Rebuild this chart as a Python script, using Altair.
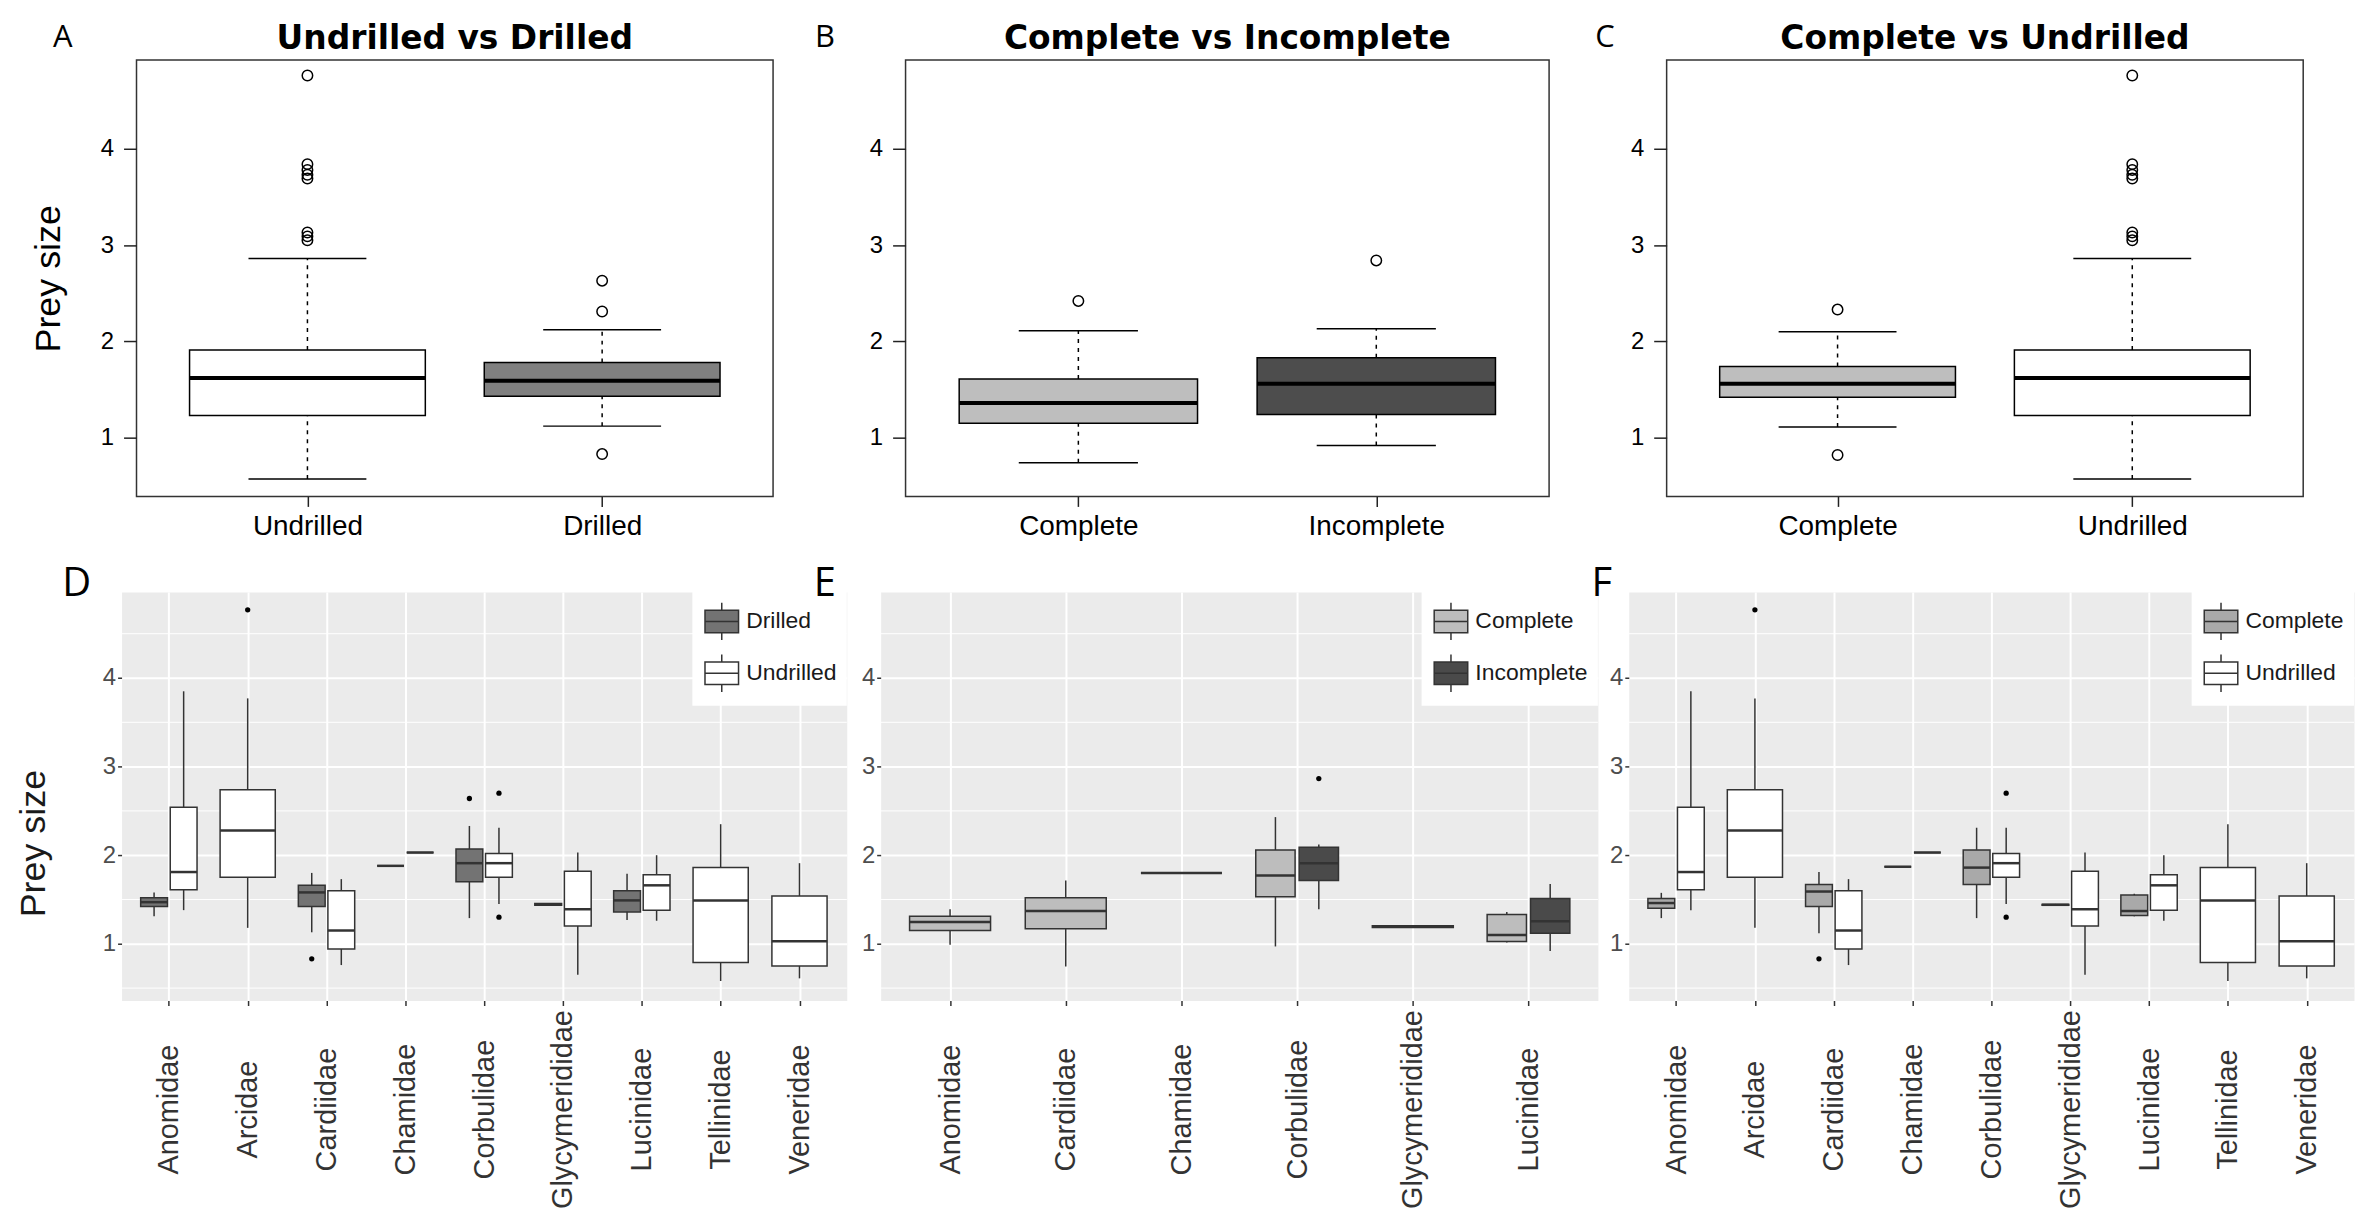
import altair as alt
import numpy as np
import pandas as pd

FONT = "Liberation Sans"
TITLE_FONT = "DejaVu Sans"
LETTER_FONT = "Open Sans"

# ---------------- top row data (base-R style boxplots) ----------------
A_groups = ["Undrilled", "Drilled"]
A_fill = ["#ffffff", "#808080"]
A_lower = [0.57, 1.12]
A_q1 = [1.23, 1.43]
A_median = [1.62, 1.59]
A_q3 = [1.91, 1.78]
A_upper = [2.86, 2.12]
A_out_group = ["Undrilled"] * 8 + ["Drilled"] * 3
A_out_value = [4.76, 3.84, 3.78, 3.73, 3.69, 3.13, 3.09, 3.05, 2.63, 2.31, 0.83]

B_groups = ["Complete", "Incomplete"]
B_fill = ["#bebebe", "#4d4d4d"]
B_lower = [0.74, 0.92]
B_q1 = [1.15, 1.24]
B_median = [1.36, 1.56]
B_q3 = [1.61, 1.83]
B_upper = [2.11, 2.13]
B_out_group = ["Complete", "Incomplete"]
B_out_value = [2.42, 2.84]

C_groups = ["Complete", "Undrilled"]
C_fill = ["#bebebe", "#ffffff"]
C_lower = [1.11, 0.57]
C_q1 = [1.42, 1.23]
C_median = [1.56, 1.62]
C_q3 = [1.74, 1.91]
C_upper = [2.10, 2.86]
C_out_group = ["Complete", "Complete"] + ["Undrilled"] * 8
C_out_value = [2.33, 0.82, 4.76, 3.84, 3.78, 3.73, 3.69, 3.13, 3.09, 3.05]

# ---------------- bottom row data (ggplot style boxplots) ----------------
fams9 = ["Anomidae", "Arcidae", "Cardiidae", "Chamidae", "Corbulidae",
         "Glycymerididae", "Lucinidae", "Tellinidae", "Veneridae"]
fams6 = ["Anomidae", "Cardiidae", "Chamidae", "Corbulidae", "Glycymerididae", "Lucinidae"]

D_groups = ["Drilled", "Undrilled"]
D_fill = ["#737373", "#ffffff"]
D_box_family = ["Anomidae", "Anomidae", "Arcidae", "Cardiidae", "Cardiidae", "Chamidae", "Chamidae",
                "Corbulidae", "Corbulidae", "Glycymerididae", "Glycymerididae", "Lucinidae", "Lucinidae",
                "Tellinidae", "Veneridae"]
D_box_group = ["Drilled", "Undrilled", "Undrilled", "Drilled", "Undrilled", "Drilled", "Undrilled",
               "Drilled", "Undrilled", "Drilled", "Undrilled", "Drilled", "Undrilled", "Undrilled", "Undrilled"]
D_lower = [1.31, 1.38, 1.18, 1.13, 0.76, 1.88, 2.03, 1.29, 1.45, 1.43, 0.65, 1.27, 1.26, 0.58, 0.61]
D_q1 = [1.42, 1.61, 1.75, 1.42, 0.94, 1.88, 2.03, 1.70, 1.75, 1.435, 1.20, 1.36, 1.38, 0.79, 0.75]
D_median = [1.47, 1.81, 2.28, 1.58, 1.15, 1.88, 2.03, 1.91, 1.91, 1.445, 1.39, 1.49, 1.66, 1.49, 1.03]
D_q3 = [1.52, 2.54, 2.74, 1.66, 1.60, 1.88, 2.03, 2.07, 2.02, 1.455, 1.82, 1.60, 1.78, 1.86, 1.54]
D_upper = [1.58, 3.85, 3.77, 1.80, 1.73, 1.88, 2.03, 2.33, 2.31, 1.46, 2.03, 1.79, 2.00, 2.35, 1.91]
D_out_family = ["Arcidae", "Cardiidae", "Corbulidae", "Corbulidae", "Corbulidae"]
D_out_group = ["Undrilled", "Drilled", "Drilled", "Undrilled", "Undrilled"]
D_out_value = [4.77, 0.83, 2.64, 2.70, 1.30]

E_groups = ["Complete", "Incomplete"]
E_fill = ["#bdbdbd", "#4a4a4a"]
E_box_family = ["Anomidae", "Cardiidae", "Chamidae", "Corbulidae", "Corbulidae",
                "Glycymerididae", "Lucinidae", "Lucinidae"]
E_box_group = ["Complete", "Complete", "Complete", "Complete", "Incomplete",
               "Complete", "Complete", "Incomplete"]
E_lower = [0.99, 0.745, 1.80, 0.97, 1.39, 1.18, 1.015, 0.92]
E_q1 = [1.15, 1.17, 1.80, 1.53, 1.715, 1.185, 1.026, 1.12]
E_median = [1.245, 1.37, 1.80, 1.77, 1.91, 1.195, 1.10, 1.255]
E_q3 = [1.31, 1.52, 1.80, 2.06, 2.09, 1.205, 1.33, 1.51]
E_upper = [1.39, 1.715, 1.80, 2.43, 2.12, 1.21, 1.36, 1.675]
E_out_family = ["Corbulidae"]
E_out_group = ["Incomplete"]
E_out_value = [2.865]

F_groups = ["Complete", "Undrilled"]
F_fill = ["#a9a9a9", "#ffffff"]
F_box_family = ["Anomidae", "Anomidae", "Arcidae", "Cardiidae", "Cardiidae", "Chamidae", "Chamidae",
                "Corbulidae", "Corbulidae", "Glycymerididae", "Glycymerididae", "Lucinidae", "Lucinidae",
                "Tellinidae", "Veneridae"]
F_box_group = ["Complete", "Undrilled", "Undrilled", "Complete", "Undrilled", "Complete", "Undrilled",
               "Complete", "Undrilled", "Complete", "Undrilled", "Complete", "Undrilled", "Undrilled", "Undrilled"]
F_lower = [1.29, 1.38, 1.18, 1.12, 0.76, 1.87, 2.03, 1.29, 1.45, 1.43, 0.65, 1.31, 1.26, 0.58, 0.61]
F_q1 = [1.40, 1.61, 1.75, 1.42, 0.94, 1.87, 2.03, 1.67, 1.75, 1.435, 1.20, 1.32, 1.38, 0.79, 0.75]
F_median = [1.46, 1.81, 2.28, 1.59, 1.15, 1.87, 2.03, 1.86, 1.91, 1.44, 1.39, 1.37, 1.66, 1.49, 1.03]
F_q3 = [1.51, 2.54, 2.74, 1.67, 1.60, 1.87, 2.03, 2.06, 2.02, 1.445, 1.82, 1.55, 1.78, 1.86, 1.54]
F_upper = [1.575, 3.85, 3.77, 1.81, 1.73, 1.87, 2.03, 2.31, 2.31, 1.45, 2.03, 1.565, 2.00, 2.35, 1.91]
F_out_family = ["Arcidae", "Cardiidae", "Corbulidae", "Corbulidae"]
F_out_group = ["Undrilled", "Complete", "Undrilled", "Undrilled"]
F_out_value = [4.77, 0.83, 2.70, 1.30]

TOP_Y = [0.39, 4.92]
BOT_Y = [0.36, 4.97]
TOP_H = 438
BOT_H = 410


def label_expr(names):
    return "[" + ",".join("'%s'" % n for n in names) + "][datum.value - 1]"


def text_layer(txt, dx, dy, size, font, weight="normal"):
    return alt.Chart(pd.DataFrame({"label": [txt]})).mark_text(
        font=font, fontSize=size, fontWeight=weight, align="center", baseline="middle",
        color="black"
    ).encode(x=alt.value(dx), y=alt.value(dy), text="label:N")


def top_panel(groups, fills, lower, q1, med, q3, upper, out_g, out_v,
              title, letter, letter_dx, width, ytitle):
    box = pd.DataFrame({"group": groups, "lower": lower, "q1": q1, "median": med,
                        "q3": q3, "upper": upper})
    box["pos"] = np.arange(1, len(groups) + 1)
    box["bl"] = box["pos"] - 0.4
    box["br"] = box["pos"] + 0.4
    box["cl"] = box["pos"] - 0.2
    box["cr"] = box["pos"] + 0.2
    outs = pd.DataFrame({"group": out_g, "value": out_v})
    outs["pos"] = outs["group"].map({g: i + 1 for i, g in enumerate(groups)})

    xs = alt.Scale(domain=[0.42, len(groups) + 0.58], nice=False, zero=False)
    ys = alt.Scale(domain=TOP_Y, nice=False, zero=False)
    xaxis = alt.Axis(values=list(range(1, len(groups) + 1)), labelExpr=label_expr(groups),
                     title=None, grid=False, domain=False, tickSize=10, tickColor="#222",
                     tickWidth=1.5, labelFontSize=28, labelPadding=6, labelColor="black",
                     labelFont=FONT, labelFlush=False)
    ykw = dict(values=[1, 2, 3, 4], format="d", grid=False, domain=False, tickSize=13,
               tickColor="#222", tickWidth=1.5, labelFontSize=24, labelPadding=10,
               labelColor="black", labelFont=FONT)
    if ytitle:
        yaxis = alt.Axis(title=ytitle, titleX=-88, titleY=TOP_H / 2, titleAngle=270,
                         titleAlign="center", titleBaseline="middle", titleFontSize=36,
                         titleFontWeight="normal", titleColor="black", titleFont=FONT, **ykw)
    else:
        yaxis = alt.Axis(title=None, **ykw)

    def X(f):
        return alt.X(f, type="quantitative", scale=xs, axis=xaxis)

    def Y(f):
        return alt.Y(f, type="quantitative", scale=ys, axis=yaxis)

    base = alt.Chart(box)
    up = base.mark_rule(color="black", strokeWidth=1.5, strokeDash=[4, 5]).encode(
        x=X("pos"), y=Y("q3"), y2="upper")
    lo = base.mark_rule(color="black", strokeWidth=1.5, strokeDash=[4, 5]).encode(
        x=X("pos"), y=Y("lower"), y2="q1")
    capu = base.mark_rule(color="black", strokeWidth=1.5).encode(x=X("cl"), x2="cr", y=Y("upper"))
    capl = base.mark_rule(color="black", strokeWidth=1.5).encode(x=X("cl"), x2="cr", y=Y("lower"))
    rect = base.mark_rect(stroke="black", strokeWidth=1.5).encode(
        x=X("bl"), x2="br", y=Y("q1"), y2="q3",
        fill=alt.Fill("group:N", scale=alt.Scale(domain=groups, range=fills), legend=None))
    medr = base.mark_rule(color="black", strokeWidth=4).encode(x=X("bl"), x2="br", y=Y("median"))
    pts = alt.Chart(outs).mark_point(shape="circle", filled=False, size=110, strokeWidth=1.5,
                                     color="black", opacity=1).encode(x=X("pos"), y=Y("value"))
    let = text_layer(letter, letter_dx, -22, 31, LETTER_FONT)
    ttl = text_layer(title, width / 2, -21, 33, TITLE_FONT, "bold")
    return alt.layer(up, lo, capu, capl, rect, medr, pts, let, ttl).properties(
        width=width, height=TOP_H,
        view=alt.ViewBackground(stroke="#333333", strokeWidth=1.5, fill="white"))


BOX_PATH = "M-0.9,-0.6H0.9V0.6H-0.9Z M-0.9,0H0.9 M0,-0.6V-1 M0,0.6V1"


def bottom_panel(fams, groups, fills, bf, bg, lower, q1, med, q3, upper, of, og, ov,
                 letter, letter_dx, width, ytitle, legend_offset):
    box = pd.DataFrame({"family": bf, "group": bg, "lower": lower, "q1": q1,
                        "median": med, "q3": q3, "upper": upper})
    box["pos"] = box["family"].map({f: i + 1 for i, f in enumerate(fams)})
    cnt = box.groupby("family")["group"].transform("count").to_numpy()
    order = box.groupby("family").cumcount().to_numpy()
    off = np.where(cnt == 2, np.where(order == 0, -0.1875, 0.1875), 0.0)
    hw = np.where(cnt == 2, 0.17, 0.35)
    box["xc"] = box["pos"] + off
    box["xl"] = box["xc"] - hw
    box["xr"] = box["xc"] + hw
    outs = pd.DataFrame({"family": of, "group": og, "value": ov})
    outs = outs.merge(box[["family", "group", "xc"]], on=["family", "group"], how="left")
    minor = pd.DataFrame({"v": [0.5, 1.5, 2.5, 3.5, 4.5]})

    n = len(fams)
    xs = alt.Scale(domain=[0.4, n + 0.6], nice=False, zero=False)
    ys = alt.Scale(domain=BOT_Y, nice=False, zero=False)
    xaxis = alt.Axis(values=list(range(1, n + 1)), labelExpr=label_expr(fams), title=None,
                     grid=True, gridColor="white", gridWidth=2, domain=False, tickSize=5,
                     tickColor="#333333", tickWidth=1.5, labelAngle=270, labelAlign="center",
                     labelBaseline="middle", labelPadding=104, labelFontSize=29,
                     labelColor="#333333", labelFont=FONT, labelFlush=False, labelOverlap=False,
                     labelLimit=400)
    ykw = dict(values=[1, 2, 3, 4], format="d", grid=True, gridColor="white", gridWidth=2,
               domain=False, tickSize=4, tickColor="#333333", tickWidth=1.5, labelFontSize=24,
               labelPadding=2, labelColor="#4d4d4d", labelFont=FONT)
    if ytitle:
        yaxis = alt.Axis(title=ytitle, titleX=-88, titleY=252, titleAngle=270,
                         titleAlign="center", titleBaseline="middle", titleFontSize=36,
                         titleFontWeight="normal", titleColor="#1a1a1a", titleFont=FONT, **ykw)
    else:
        yaxis = alt.Axis(title=None, **ykw)

    def X(f):
        return alt.X(f, type="quantitative", scale=xs, axis=xaxis)

    def Y(f):
        return alt.Y(f, type="quantitative", scale=ys, axis=yaxis)

    grid_minor = alt.Chart(minor).mark_rule(color="white", strokeWidth=1).encode(y=Y("v"))
    base = alt.Chart(box)
    whisk = base.mark_rule(color="#333333", strokeWidth=1.5).encode(x=X("xc"), y=Y("lower"), y2="upper")
    rect = base.mark_rect(stroke="#333333", strokeWidth=1.5).encode(
        x=X("xl"), x2="xr", y=Y("q1"), y2="q3",
        fill=alt.Fill("group:N", scale=alt.Scale(domain=groups, range=fills),
                      legend=alt.Legend(title=None, orient="top-right", offset=legend_offset,
                                        padding=10, fillColor="white", symbolType=BOX_PATH,
                                        symbolSize=1400, symbolStrokeColor="#333333",
                                        symbolStrokeWidth=1.5, labelFontSize=23,
                                        labelColor="#1a1a1a", labelFont=FONT, rowPadding=7,
                                        labelOffset=5)))
    medr = base.mark_rule(color="#333333", strokeWidth=2.5).encode(x=X("xl"), x2="xr", y=Y("median"))
    pts = alt.Chart(outs).mark_circle(size=28, color="black", opacity=1).encode(x=X("xc"), y=Y("value"))
    let = text_layer(letter, letter_dx, -8, 40, LETTER_FONT)
    return alt.layer(grid_minor, whisk, rect, medr, pts, let).properties(
        width=width, height=BOT_H,
        view=alt.ViewBackground(stroke="transparent", fill="#EBEBEB"))


def spacer(w):
    return alt.Chart(pd.DataFrame({"v": [0]})).mark_point(opacity=0).encode(
        x=alt.X("v:Q", axis=None), y=alt.Y("v:Q", axis=None)
    ).properties(width=w, height=1, view=alt.ViewBackground(stroke="transparent"))


A = top_panel(A_groups, A_fill, A_lower, A_q1, A_median, A_q3, A_upper, A_out_group, A_out_value,
              "Undrilled vs Drilled", "A", -74, 639, "Prey size")
B = top_panel(B_groups, B_fill, B_lower, B_q1, B_median, B_q3, B_upper, B_out_group, B_out_value,
              "Complete vs Incomplete", "B", -81, 646, None)
C = top_panel(C_groups, C_fill, C_lower, C_q1, C_median, C_q3, C_upper, C_out_group, C_out_value,
              "Complete vs Undrilled", "C", -62, 639, None)

D = bottom_panel(fams9, D_groups, D_fill, D_box_family, D_box_group, D_lower, D_q1, D_median, D_q3,
                 D_upper, D_out_family, D_out_group, D_out_value, "D", -45, 728, "Prey size", 0)
E = bottom_panel(fams6, E_groups, E_fill, E_box_family, E_box_group, E_lower, E_q1, E_median, E_q3,
                 E_upper, E_out_family, E_out_group, E_out_value, "E", -56, 720, None, 0)
F = bottom_panel(fams9, F_groups, F_fill, F_box_family, F_box_group, F_lower, F_q1, F_median, F_q3,
                 F_upper, F_out_family, F_out_group, F_out_value, "F", -27, 728, None, 0)

bc = alt.hconcat(B, C, spacing=118, bounds="flush").resolve_scale(fill="independent")
abc = alt.hconcat(A, bc, spacing=133, bounds="flush").resolve_scale(fill="independent")
top = alt.hconcat(spacer(1), abc, spacing=14, bounds="flush").resolve_scale(fill="independent")

ef = alt.hconcat(E, F, spacing=31, bounds="flush").resolve_scale(fill="independent")
bottom = alt.hconcat(D, ef, spacing=34, bounds="flush").resolve_scale(fill="independent")

chart = alt.vconcat(top, bottom, spacing=22).resolve_scale(
    fill="independent"
).properties(
    padding={"left": 7, "top": 11, "right": 0, "bottom": 0}
).configure(font=FONT, background="white")

chart.save("out.html", embed_options={"renderer": "svg", "actions": False})
